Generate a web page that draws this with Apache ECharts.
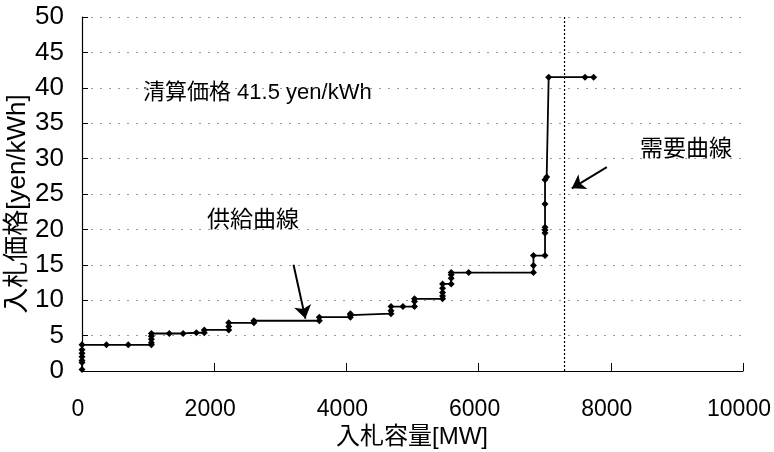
<!DOCTYPE html>
<html>
<head>
<meta charset="utf-8">
<script src="https://cdn.jsdelivr.net/npm/echarts@6/dist/echarts.min.js"></script>
<style>
html, body { margin: 0; background: #fff; }
#main { width: 774px; height: 452px; }
</style>
</head>
<body>
<div id="main"></div>
<script>
// 供給曲線 (bid capacity MW, bid price yen/kWh)
var supplyMW = [0, 0, 0, 0, 0, 0, 0,
    370, 700, 1050, 1050, 1050, 1050, 1050,
    1320, 1530, 1730, 1850, 1850,
    2220, 2220, 2220,
    2600, 2600,
    3590, 3590,
    4060, 4060, 4060,
    4675, 4675, 4675,
    4855,
    5030, 5030, 5030,
    5455, 5455, 5455, 5455, 5455,
    5585, 5585, 5585, 5585,
    5850,
    6830, 6830, 6830,
    7005, 7005, 7005, 7005, 7005, 7005,
    7030,
    7060,
    7610, 7740];
var supplyPrice = [0.2, 1.2, 1.5, 2.0, 2.5, 3.0, 3.7,
    3.7, 3.7, 3.7, 4.0, 4.5, 4.9, 5.3,
    5.3, 5.3, 5.4, 5.4, 5.8,
    5.8, 6.3, 6.8,
    6.8, 7.1,
    7.1, 7.6,
    7.6, 7.9, 8.1,
    8.1, 8.5, 9.1,
    9.1,
    9.1, 9.8, 10.2,
    10.2, 10.6, 11.1, 11.7, 12.3,
    12.3, 13.1, 13.6, 13.9,
    13.9,
    13.9, 14.9, 16.3,
    16.3, 19.5, 19.9, 20.3, 23.6, 27.0,
    27.4,
    41.5,
    41.5, 41.5];

// 需要曲線: vertical demand line
var demandMW = [7300, 7300];
var demandPrice = [0, 50];

// arrows [fromMW, fromPrice, toMW, toPrice]
var supplyArrow = [3200, 15.0, 3380, 7.4];
var demandArrow = [7940, 28.8, 7410, 25.8];

var xTicks = { min: 0, max: 10000, interval: 2000 };
var yTicks = { min: 0, max: 50, interval: 5 };

var latin = '"Liberation Sans", "Noto Sans CJK JP", sans-serif';

var supplyData = supplyMW.map(function (x, i) { return [x, supplyPrice[i]]; });
var demandData = demandMW.map(function (x, i) { return [x, demandPrice[i]]; });

var chart = echarts.init(document.getElementById('main'));
var option = {
    backgroundColor: '#fff',
    animation: false,
    grid: { left: 82, right: 31, top: 17, bottom: 81, outerBoundsMode: 'none' },
    xAxis: {
        type: 'value',
        min: xTicks.min, max: xTicks.max, interval: xTicks.interval,
        axisLine: { lineStyle: { color: '#000', width: 1.2 } },
        axisTick: { inside: true, length: 8, lineStyle: { color: '#000' } },
        axisLabel: {
            color: '#000', fontSize: 23, fontFamily: latin, margin: 27,
            padding: [0, 8, 0, 0],
            formatter: function (v) { return String(v); }
        },
        splitLine: { show: false }
    },
    yAxis: {
        type: 'value',
        min: yTicks.min, max: yTicks.max, interval: yTicks.interval,
        axisLine: { show: true, lineStyle: { color: '#000', width: 1.2 } },
        axisTick: { show: true, inside: true, length: 6, lineStyle: { color: '#000' } },
        axisLabel: { color: '#000', fontSize: 26, fontFamily: latin, margin: 18 },
        splitLine: { show: true, lineStyle: { color: '#999', width: 1, type: [2, 7] } }
    },
    series: [
        {
            name: '供給曲線',
            type: 'line',
            data: supplyData,
            symbol: 'diamond',
            symbolSize: 7,
            itemStyle: { color: '#000' },
            lineStyle: { color: '#000', width: 1.8 },
            markLine: {
                silent: true,
                symbol: ['none', 'arrow'],
                symbolSize: 13,
                label: { show: false },
                lineStyle: { color: '#000', width: 2, type: 'solid' },
                data: [
                    [{ coord: [supplyArrow[0], supplyArrow[1]] }, { coord: [supplyArrow[2], supplyArrow[3]] }],
                    [{ coord: [demandArrow[0], demandArrow[1]] }, { coord: [demandArrow[2], demandArrow[3]] }]
                ]
            }
        },
        {
            name: '需要曲線',
            type: 'line',
            data: demandData,
            showSymbol: false,
            lineStyle: { color: '#000', width: 1.2, type: [2, 2] }
        }
    ],
    graphic: [
        {
            type: 'text', x: 18, y: 204, rotation: Math.PI / 2,
            style: { text: '入札価格[yen/kWh]', font: '26px ' + latin, fill: '#000', align: 'center', verticalAlign: 'middle' }
        },
        {
            type: 'text', x: 412, y: 437,
            style: { text: '入札容量[MW]', font: '24px ' + latin, fill: '#000', align: 'center', verticalAlign: 'middle' }
        },
        {
            type: 'text', x: 143, y: 93,
            style: { text: '清算価格 41.5 yen/kWh', font: '22px ' + latin, fill: '#000', align: 'left', verticalAlign: 'middle' }
        },
        {
            type: 'text', x: 207, y: 221,
            style: { text: '供給曲線', font: '23px ' + latin, fill: '#000', align: 'left', verticalAlign: 'middle' }
        },
        {
            type: 'text', x: 640, y: 150,
            style: { text: '需要曲線', font: '23px ' + latin, fill: '#000', align: 'left', verticalAlign: 'middle' }
        }
    ]
};
chart.setOption(option);
</script>
</body>
</html>
